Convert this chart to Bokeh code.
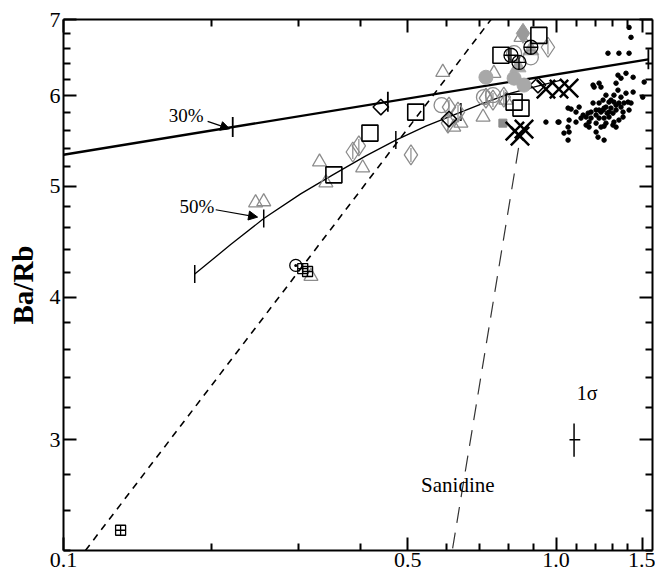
import math
from bokeh.plotting import figure
from bokeh.models import (Range1d, FixedTicker, LogAxis, PrintfTickFormatter,
                          CustomJSTickFormatter, Label, Arrow, NormalHead)
from bokeh.embed import file_html
from bokeh.resources import INLINE

FONT = "Liberation Serif"

# ---------------- axis ticks ----------------
x_major = [0.1, 0.5, 1.0, 1.5]
x_minor = [0.2, 0.3, 0.4, 0.6, 0.7, 0.8, 0.9, 1.1, 1.2, 1.3, 1.4]
y_major = [3, 4, 5, 6, 7]
y_minor = [2.4, 2.6, 2.8, 3.2, 3.4, 3.6, 3.8, 4.2, 4.4, 4.6, 4.8,
           5.2, 5.4, 5.6, 5.8, 6.2, 6.4, 6.6, 6.8]

# ---------------- model curves ----------------
mix30_x = [0.1, 1.54]
mix30_y = [5.33, 6.46]
mix30_tick_x = [0.2206, 0.4556, 1.54]
mix30_tick_y = [5.635, 5.93, 6.46]

mix50_x = [0.1847, 0.2185, 0.255, 0.3031, 0.3522, 0.4110, 0.4729, 0.5441,
           0.6116, 0.7042, 0.8101, 0.934, 1.0237]
mix50_y = [4.19, 4.447, 4.686, 4.925, 5.118, 5.318, 5.489, 5.646,
           5.760, 5.902, 6.034, 6.133, 6.194]
mix50_tick_x = [0.1847, 0.255, 0.4729, 0.641]
mix50_tick_y = [4.19, 4.686, 5.489, 5.808]

trend_x = [0.1108, 0.738]
trend_y = [2.40, 7.0]

sanid_x = [0.6167, 0.845]
sanid_y = [2.41, 5.50]

# ---------------- samples ----------------
tri_x = [0.589, 0.331, 0.341, 0.405, 0.2455, 0.255, 0.641, 0.711, 0.748, 0.791, 0.849, 0.620, 0.318]
tri_y = [6.294, 5.253, 5.037, 5.191, 4.838, 4.848, 5.68, 5.75, 6.281, 5.95, 6.753, 5.635, 4.171]

dia_x = [0.3867, 0.3978, 0.5075, 0.6063, 0.6035, 0.6324, 0.7206, 0.7447, 0.7835, 0.963]
dia_y = [5.359, 5.425, 5.328, 5.867, 5.680, 5.808, 5.974, 5.95, 5.986, 6.619]

bdia_x = [0.4409, 0.6063, 0.919]
bdia_y = [5.867, 5.727, 6.133]

sq_x = [0.419, 0.519, 0.354, 0.773, 0.822, 0.923, 0.849]
sq_y = [5.567, 5.808, 5.118, 6.513, 5.926, 6.780, 5.855]

sqx_x = [0.306, 0.313, 0.1306]
sqx_y = [4.237, 4.212, 2.500]

cdot_x = [0.2962]
cdot_y = [4.264]

circ_x = [0.5856, 0.714, 0.7447, 0.889, 0.822]
circ_y = [5.89, 5.986, 6.01, 6.486, 6.54]

ccross_x = [0.81, 0.889, 0.841]
ccross_y = [6.513, 6.619, 6.42]

gcirc_x = [0.7206, 0.822, 0.861]
gcirc_y = [6.231, 6.219, 6.133]

gtri_x = [0.837, 0.889]
gtri_y = [6.358, 6.58]

gdia_x = [0.857]
gdia_y = [6.807]

gsq_x = [0.780]
gsq_y = [5.68]

xm_x = [0.954, 1.014, 1.063, 0.825, 0.861, 0.845]
xm_y = [6.083, 6.083, 6.095, 5.590, 5.612, 5.534]

dot_x = [1.336, 1.387, 1.434, 1.355, 1.324, 1.223, 1.189, 1.510, 1.50, 1.387,
         1.336, 1.311, 1.263, 1.223, 1.246, 1.281, 1.311, 1.342, 1.374, 1.400,
         1.420, 1.407, 1.368, 1.324, 1.293, 1.263, 1.246, 1.206, 1.178, 1.162,
         1.135, 1.114, 1.073, 1.124, 1.098, 1.063, 1.014, 1.058, 1.063, 1.038,
         1.058, 1.151, 1.167, 1.206, 1.223, 1.252, 1.281, 1.305, 1.234, 1.263,
         1.305, 1.206, 1.217, 1.252, 1.167, 1.434, 1.368, 1.311, 1.189, 1.275,
         1.342, 1.407, 1.420, 1.407, 1.234, 1.195, 0.954, 1.0095, 1.058, 1.252,
         1.293, 1.355, 1.27, 1.342, 1.234, 1.178, 1.151, 1.324, 1.355, 1.281,
         1.223, 1.252, 1.324, 1.206, 1.098]
dot_y = [6.257, 6.281, 6.231, 6.219, 6.157, 6.157, 6.133, 6.170, 5.986, 6.034,
         6.071, 6.010, 6.010, 5.915, 5.950, 5.926, 5.926, 5.915, 5.915, 5.926,
         5.915, 5.832, 5.808, 5.832, 5.855, 5.867, 5.832, 5.832, 5.808, 5.796,
         5.773, 5.867, 5.843, 5.738, 5.692, 5.715, 5.692, 5.635, 5.579, 5.567,
         5.489, 5.658, 5.635, 5.680, 5.738, 5.738, 5.750, 5.796, 5.635, 5.680,
         5.658, 5.579, 5.522, 5.489, 5.692, 6.047, 5.750, 5.692, 5.915, 6.540,
         6.540, 6.540, 6.753, 6.889, 6.108, 6.108, 5.692, 5.692, 5.855, 5.855,
         5.950, 5.986, 5.796, 5.715, 5.808, 5.738, 5.750, 5.89, 5.867, 5.808,
         5.832, 5.646, 5.635, 5.773, 5.808]

sigma_x = [1.088]
sigma_y = [3.0]
sigma_xlo, sigma_xhi = [1.065], [1.12]
sigma_ylo, sigma_yhi = [2.90], [3.10]

# ---------------- figure ----------------
p = figure(width=655, height=575, x_axis_type="log", y_axis_type="log",
           x_range=Range1d(0.1, 1.57), y_range=Range1d(2.40, 7.0),
           output_backend="svg", toolbar_location=None,
           min_border_left=63, min_border_right=3, min_border_top=19,
           min_border_bottom=25)
p.xgrid.visible = False
p.ygrid.visible = False
p.outline_line_color = None
p.background_fill_color = "white"
p.border_fill_color = "white"


def style(ax, ticks, minor):
    ax.ticker = FixedTicker(ticks=ticks, minor_ticks=minor)
    ax.axis_line_width = 2
    ax.axis_line_color = "black"
    ax.major_tick_in = 13
    ax.major_tick_out = 0
    ax.minor_tick_in = 7
    ax.minor_tick_out = 0
    ax.major_tick_line_width = 2
    ax.minor_tick_line_width = 2
    ax.major_label_text_font = FONT
    ax.major_label_text_font_size = "22px"
    ax.major_label_text_color = "black"


style(p.xaxis[0], x_major, x_minor)
p.xaxis[0].formatter = PrintfTickFormatter(format="%.1f")
p.xaxis[0].major_label_standoff = 2
style(p.yaxis[0], y_major, y_minor)
p.yaxis[0].formatter = PrintfTickFormatter(format="%d")
p.yaxis[0].major_label_standoff = 3
p.yaxis[0].axis_label = "Ba/Rb"
p.yaxis[0].axis_label_text_font = FONT
p.yaxis[0].axis_label_text_font_style = "bold"
p.yaxis[0].axis_label_text_font_size = "29px"
p.yaxis[0].axis_label_text_color = "black"
p.yaxis[0].axis_label_standoff = 8

blank = "return ''"
ra = LogAxis()
style(ra, y_major, y_minor)
ra.formatter = CustomJSTickFormatter(code=blank)
ra.major_label_standoff = 0
p.add_layout(ra, "right")
ta = LogAxis()
style(ta, x_major, x_minor)
ta.formatter = CustomJSTickFormatter(code=blank)
ta.major_label_standoff = 0
p.add_layout(ta, "above")

# ---------------- lines ----------------
p.line(trend_x, trend_y, line_color="black", line_width=1.6, line_dash="7 6")
p.line(sanid_x, sanid_y, line_color="#333333", line_width=1.2, line_dash="16 10")
p.line(mix30_x, mix30_y, line_color="black", line_width=2.4)
p.line(mix50_x, mix50_y, line_color="black", line_width=1.3)
p.scatter(mix30_tick_x, mix30_tick_y, marker="dash", angle=math.pi / 2, size=20,
          line_color="black", line_width=1.8)
p.scatter(mix50_tick_x, mix50_tick_y, marker="dash", angle=math.pi / 2, size=18,
          line_color="black", line_width=1.5)

# ---------------- samples ----------------
gray = "#8c8c8c"
p.scatter(dot_x, dot_y, marker="circle", size=4.5, fill_color="black", line_color="black")
p.scatter(tri_x, tri_y, marker="triangle", size=14, fill_color=None, line_color=gray, line_width=1.3)
p.scatter(dia_x, dia_y, marker="diamond", size=20, fill_color=None, line_color=gray, line_width=1.3)
p.scatter(dia_x, dia_y, marker="dash", angle=math.pi / 2, size=14, line_color=gray, line_width=1.2)
p.scatter(bdia_x, bdia_y, marker="square", angle=math.pi / 4, size=11, fill_color=None,
          line_color="black", line_width=1.5)
p.scatter(gcirc_x, gcirc_y, marker="circle", size=14, fill_color="#a8a8a8", line_color="#a8a8a8")
p.scatter(gtri_x, gtri_y, marker="triangle", size=16, fill_color="#a8a8a8", line_color="#a8a8a8")
p.scatter(gdia_x, gdia_y, marker="diamond", size=20, fill_color="#9a9a9a", line_color="#9a9a9a")
p.scatter(gsq_x, gsq_y, marker="square", size=8, fill_color="#8c8c8c", line_color="#8c8c8c")
p.scatter(circ_x, circ_y, marker="circle", size=15, fill_color=None, line_color=gray, line_width=1.3)
p.scatter(ccross_x, ccross_y, marker="circle_cross", size=14, fill_color=None, line_color="black", line_width=1.3)
p.scatter(sq_x, sq_y, marker="square", size=16, fill_color=None, line_color="black", line_width=1.6)
p.scatter(sqx_x, sqx_y, marker="square_cross", size=10, fill_color=None, line_color="black", line_width=1.3)
p.scatter(cdot_x, cdot_y, marker="circle_dot", size=12, fill_color=None, line_color="black", line_width=1.3)
p.scatter(xm_x, xm_y, marker="x", size=26, line_color="black", line_width=2.5)

# 1 sigma error bar
p.segment(sigma_x, sigma_ylo, sigma_x, sigma_yhi, line_color="black", line_width=1.5)
p.segment(sigma_xlo, sigma_y, sigma_xhi, sigma_y, line_color="black", line_width=1.5)

# ---------------- annotations ----------------
def lab(x, y, t, size="19px", align="left"):
    p.add_layout(Label(x=x, y=y, text=t, text_font=FONT, text_font_size=size,
                       text_align=align, text_baseline="middle", text_color="black"))

lab(0.1635, 5.77, "30%")
lab(0.172, 4.80, "50%")
lab(0.632, 2.74, "Sanidine", size="21px", align="center")
lab(1.156, 3.30, "1σ", size="20px", align="center")

for (x0, y0, x1, y1) in [(0.1962, 5.70, 0.2174, 5.615), (0.2037, 4.77, 0.2478, 4.70)]:
    p.add_layout(Arrow(x_start=x0, y_start=y0, x_end=x1, y_end=y1, line_width=1.2,
                       end=NormalHead(size=9, fill_color="black", line_color="black")))

open("out.html", "w").write(file_html(p, INLINE))
